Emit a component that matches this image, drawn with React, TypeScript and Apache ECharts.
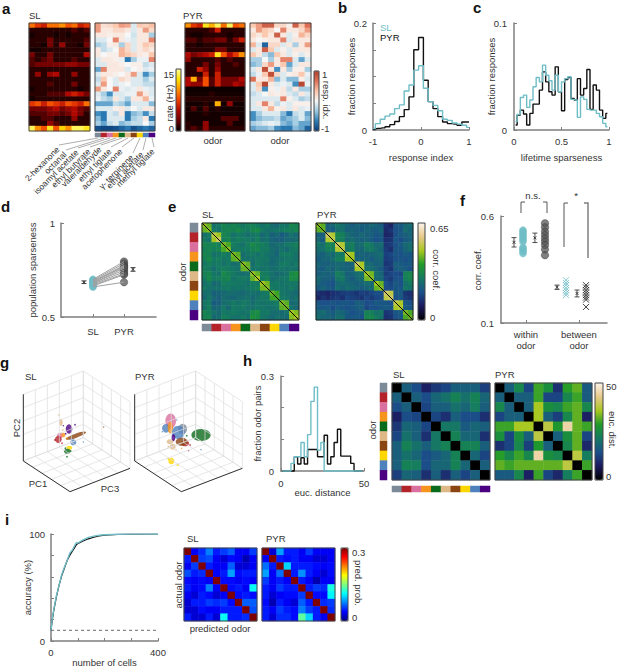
import React, { useRef, useEffect } from 'react';
import * as echarts from 'echarts';

const FONT = 'Liberation Sans';
const TEAL = '#6fbdc6';
const TEXT = '#333333';
const AXIS = '#7f7f7f';

const odorNames = ['2-hexanone', 'octanal', 'isoamyl acetate', 'ethyl butyrate', 'valeraldehyde', 'ethyl tiglate', 'acetophenone', 'γ- terpinene', 'ethyl acetate', 'methyl tiglate'];
const odorColors = ['#7d8b99', '#b5232a', '#d9709e', '#f7941d', '#0b6b1d', '#deb887', '#8b4513', '#ffd700', '#4f81bd', '#4b0082'];
const odorIndex = [0, 1, 2, 3, 4, 5, 6, 7, 8, 9];

// a: firing rates (Hz), 22 cells x 10 odors
const rateSL = [
  [9, 7, 6, 9, 9, 10, 8, 9, 6, 7],
  [1, 1, 1, 1, 1, 1, 1, 2, 1, 2],
  [0.5, 1, 1, 1, 0.5, 1, 0.5, 1, 1, 1],
  [1, 1, 1, 3, 1, 1, 1, 1, 1, 2],
  [1, 1, 0.5, 3, 1, 4, 1, 1, 0.5, 3],
  [0.5, 0.5, 1, 1, 1, 1, 1, 1, 1, 1],
  [3, 1, 1, 3, 1, 1, 1, 1, 1, 5],
  [2, 1, 2, 3, 1, 1, 1, 2, 1, 1],
  [2, 3, 3, 3, 3, 3, 4, 4, 3, 3],
  [1, 1, 1, 1, 1, 1, 1, 1, 1, 1],
  [1, 4, 1, 4, 5, 1, 1, 4, 1, 1],
  [1, 1, 1, 1, 1, 1, 1, 1, 1, 1],
  [1, 1, 1, 2, 1, 1, 1, 3, 1, 1],
  [0.5, 1, 1, 1, 1, 1, 1, 1, 0.5, 1],
  [1, 1, 1, 2, 2, 2, 5, 6, 5, 3],
  [0.5, 1, 1, 1, 1, 1, 1, 1, 1, 1],
  [7, 8, 6, 8, 7, 6, 8, 7, 6, 9],
  [3, 3, 3, 4, 5, 3, 4, 5, 3, 2],
  [2, 2, 2, 3, 3, 2, 3, 5, 3, 1],
  [1, 1, 2, 2, 1, 1, 1, 4, 1, 1],
  [1, 1, 1, 4, 2, 1, 1, 1, 1, 1],
  [14, 10, 8, 13, 8, 12, 10, 14, 14, 13],
];
const ratePYR = [
  [10, 7, 6, 13, 11, 14, 9, 14, 8, 9],
  [1, 1, 1, 1, 2, 6, 1, 1, 1, 1],
  [1, 0.5, 0.5, 1, 1, 1, 1, 0.5, 1, 1],
  [2, 2, 1, 2, 2, 3, 3, 1, 3, 6],
  [1, 1, 0.5, 1, 1, 1, 1, 1, 1, 1],
  [1, 1, 1, 1, 1, 3, 3, 1, 1, 1],
  [5, 3, 4, 5, 6, 13, 8, 5, 7, 10],
  [4, 1, 1, 1, 1, 2, 1, 2, 1, 1],
  [1, 1, 1, 3, 1, 3, 1, 1, 2, 1],
  [1, 1, 6, 4, 1, 4, 1, 1, 1, 1],
  [1, 1, 1, 6, 1, 6, 1, 1, 1, 1],
  [5, 11, 3, 8, 2, 6, 3, 3, 3, 5],
  [5, 4, 4, 8, 2, 6, 3, 3, 5, 4],
  [0.3, 0.3, 0.3, 0.3, 0.3, 0.3, 0.3, 0.3, 0.3, 0.3],
  [0.5, 0.5, 0.5, 0.5, 1, 0.5, 0.5, 0.5, 0.5, 0.5],
  [1, 1, 1, 1, 1, 1, 1, 1, 1, 1],
  [0.5, 0.5, 0.5, 1, 0.5, 11, 0.5, 4, 0.5, 0.5],
  [0.5, 2, 0.5, 2, 0.5, 1, 0.5, 0.5, 0.5, 0.5],
  [0.5, 0.5, 0.5, 1, 0.5, 0.5, 0.5, 0.5, 0.5, 0.5],
  [0.5, 0.5, 0.5, 0.5, 0.5, 0.5, 2, 2, 2, 0.5],
  [1, 0.5, 0.5, 4, 0.5, 0.5, 0.5, 2, 0.5, 0.5],
  [1, 2, 1, 4, 1, 1, 1, 1, 1, 1],
];
// a: response index
const idxSL = [
  [0.5, 0.15, 0.2, 0.3, 0.5, 0.45, -0.1, 0.3, 0.25, 0.35],
  [0.5, 0.1, 0.1, 0.2, 0.2, 0.1, -0.1, 0.1, 0.5, 0.2],
  [0.1, 0.1, 0.05, 0.1, 0.1, 0, -0.15, 0.1, 0.1, -0.3],
  [-0.1, -0.1, 0, 0.6, 0.1, -0.05, -0.1, 0.1, 0.1, 0.6],
  [-0.3, -0.2, 0.05, 0.1, -0.3, 0.2, -0.1, 0.1, 0.3, 0.2],
  [0.1, -0.2, -0.1, 0, 0.4, 0.2, -0.1, 0.1, 0.2, 0.1],
  [0.1, 0, 0.05, 0.05, 0.4, 0.3, 0.2, 0.1, 0.05, 0.3],
  [-0.1, 0.1, 0.1, 0.05, -0.05, -0.7, -0.3, -0.05, -0.05, 0.6],
  [-0.1, -0.1, 0.1, 0.1, 0.05, 0, 0.05, 0.05, -0.2, -0.1],
  [-0.5, 0.6, 0.1, 0.1, 0.1, -0.1, 0, 0.05, -0.1, -0.05],
  [-0.1, 0.1, 0.1, 0.05, 0, 0.1, 0.5, -0.1, -0.6, -0.3],
  [-0.2, 0.3, 0, -0.1, 0.2, 0.1, -0.1, -0.1, -0.3, -0.1],
  [-0.1, 0.5, 0, -0.1, -0.05, 0, -0.1, -0.1, -0.2, -0.2],
  [0.5, 0.1, 0, 0.6, -0.05, -0.1, -0.05, 0.1, -0.05, -0.1],
  [-0.1, -0.3, -0.6, -0.1, -0.1, -0.05, -0.05, 0.5, 0.1, -0.1],
  [-0.05, -0.2, -0.3, 0.1, -0.1, -0.3, 0.1, 0.1, 0.4, -0.05],
  [-0.5, -0.5, -0.5, -0.2, -0.3, -0.5, -0.1, -0.1, -0.1, -0.4],
  [-0.1, -0.1, -0.1, 0.05, 0.1, -0.1, 0, -0.1, 0.1, 0.1],
  [-0.6, -0.7, -0.1, -0.2, 0.1, -0.7, -0.4, -0.3, -0.6, -0.2],
  [-0.4, -0.7, -0.1, -0.1, -0.1, -0.7, -0.3, -0.2, 0.1, -0.7],
  [-0.3, -0.5, -0.2, -0.1, -0.4, -0.3, -0.2, -0.2, 0, -0.3],
  [-0.9, -0.95, -0.95, -0.9, -0.8, -0.7, -0.9, -0.8, -0.7, -0.8],
];
const idxPYR = [
  [0.3, 0.5, 0.8, 0.8, 0.2, 0.2, 0.05, 0.8, 0.3, 0.7],
  [0.1, 0.5, 0.3, 0.2, 0, 0.6, 0.1, 0.1, 0.2, 0.5],
  [0.2, 0.1, 0.3, 0.1, 0.8, 0.1, -0.1, 0.05, 0.4, 0.2],
  [0.1, 0, 0.05, 0.1, 0.1, 0.6, -0.1, 0.1, 0.1, 0.1],
  [0.4, -0.1, -0.8, 0.2, 0.2, -0.1, 0.1, -0.3, 0.1, 0.5],
  [-0.1, 0.1, 0.8, 0.3, -0.1, 0.05, -0.1, 0.1, 0.1, 0.1],
  [0.3, 0.1, -0.2, -0.4, 0.3, 0.1, -0.1, 0.05, -0.1, 0.05],
  [-0.3, -0.3, 0, -0.3, 0.1, 0.6, 0.6, -0.1, -0.5, -0.1],
  [-0.4, -0.3, 0.2, 0.5, 0.1, 0.3, -0.5, -0.1, 0.1, 0.1],
  [-0.1, 0.1, 0.9, 0.1, -0.6, 0.1, -0.3, 0.05, 0.05, -0.3],
  [-0.2, -0.05, 0.3, 0.9, 0.2, -0.1, 0.05, 0.1, 0.3, -0.05],
  [0.7, 0.1, 0.1, 0.4, -0.4, -0.1, -0.4, -0.4, 0.05, -0.1],
  [-0.1, 0.3, 0.95, 0.1, -0.1, -0.05, -0.1, -0.6, 0.95, -0.05],
  [-0.1, 0.2, -0.6, 0.05, -0.05, 0.1, -0.2, 0.1, -0.3, -0.3],
  [-0.2, -0.1, 0, 0.1, 0.05, 0.1, -0.1, -0.2, 0.1, -0.1],
  [-0.1, -0.1, -0.1, -0.1, -0.1, 0.6, 0.05, -0.1, -0.3, -0.2],
  [-0.1, 0.1, 0.6, 0.1, -0.2, -0.05, -0.1, 0.05, 0.05, 0.05],
  [-0.1, -0.1, 0.1, 0.4, 0.05, 0.1, -0.1, 0.1, -0.1, -0.05],
  [-0.6, -0.3, -0.1, -0.1, -0.1, -0.4, -0.7, -0.2, -0.1, -0.5],
  [-0.6, -0.4, -0.3, -0.3, -0.2, -0.5, -0.4, -0.3, -0.1, -0.4],
  [-0.3, -0.2, -0.1, -0.05, -0.1, -0.4, -0.5, -0.3, -0.5, -0.5],
  [-0.5, -0.4, -0.4, -0.3, -0.6, -0.7, -0.7, -0.4, -0.5, -0.8],
];

// b: response index histogram
const respBins = [-1, -0.9, -0.8, -0.7, -0.6, -0.5, -0.4, -0.3, -0.2, -0.1, 0, 0.1, 0.2, 0.3, 0.4, 0.5, 0.6, 0.7, 0.8, 0.9, 1];
const respPYR = [0.002, 0.003, 0.004, 0.006, 0.01, 0.016, 0.025, 0.038, 0.062, 0.15, 0.173, 0.093, 0.053, 0.04, 0.025, 0.015, 0.012, 0.011, 0.009, 0.015, 0.015];
const respSL = [0.003, 0.012, 0.02, 0.026, 0.03, 0.04, 0.047, 0.073, 0.084, 0.112, 0.12, 0.078, 0.053, 0.046, 0.036, 0.02, 0.018, 0.013, 0.011, 0.009, 0.005];

// c: lifetime sparseness histogram, 30 bins
const sparsePYR = [0.0047, 0.014, 0.0186, 0.0149, 0.0047, 0.0155, 0.0242, 0.0242, 0.0373, 0.0543, 0.045, 0.0357, 0.0326, 0.059, 0.0357, 0.018, 0.0472, 0.049, 0.0295, 0.028, 0.048, 0.0326, 0.0388, 0.0565, 0.0193, 0.042, 0.0373, 0.0186, 0.0109, 0.0155];
const sparseSL = [0.0078, 0.0146, 0.0304, 0.0326, 0.0211, 0.028, 0.0404, 0.049, 0.045, 0.0606, 0.0512, 0.046, 0.0373, 0.0512, 0.0357, 0.045, 0.048, 0.0497, 0.0286, 0.028, 0.0118, 0.031, 0.0286, 0.0193, 0.0186, 0.0186, 0.0155, 0.0124, 0.0062, 0.0031];

// d: population sparseness, paired by experiment
const popSL = [0.7, 0.695, 0.69, 0.685, 0.68, 0.68, 0.675, 0.67, 0.665, 0.66, 0.69];
const popPYR = [0.795, 0.785, 0.775, 0.77, 0.76, 0.75, 0.74, 0.73, 0.725, 0.685, 0.765];

// e: correlation x 100 between trial groups, two groups per odor, upper triangle
const corrSL = [
  [45, 42, 26, 28, 31, 29, 31, 29, 27, 29, 30, 28, 26, 28, 25, 24, 27, 26, 31, 30],
  [44, 28, 26, 30, 31, 30, 32, 29, 28, 31, 32, 28, 26, 26, 27, 28, 29, 29, 31],
  [50, 46, 31, 29, 26, 28, 27, 25, 27, 28, 24, 26, 22, 24, 21, 23, 26, 24],
  [52, 29, 31, 27, 29, 28, 28, 26, 29, 25, 26, 23, 22, 22, 24, 24, 25],
  [43, 40, 29, 27, 26, 29, 32, 30, 29, 27, 24, 25, 25, 27, 28, 29],
  [44, 27, 28, 28, 28, 30, 31, 28, 28, 25, 24, 26, 24, 27, 28],
  [43, 41, 25, 27, 28, 26, 28, 26, 25, 23, 28, 28, 28, 26],
  [43, 26, 26, 26, 28, 27, 27, 24, 25, 26, 27, 27, 26],
  [44, 42, 25, 28, 27, 26, 24, 25, 28, 28, 26, 28],
  [42, 26, 27, 26, 27, 25, 26, 27, 26, 27, 26],
  [45, 42, 29, 28, 26, 24, 25, 26, 32, 34],
  [47, 28, 30, 25, 26, 27, 27, 33, 32],
  [46, 43, 27, 28, 26, 27, 27, 27],
  [44, 28, 27, 27, 26, 28, 26],
  [42, 39, 27, 26, 25, 24],
  [40, 28, 27, 25, 26],
  [43, 41, 24, 25],
  [42, 26, 24],
  [46, 44],
  [47],
];
const corrPYR = [
  [44, 41, 22, 24, 27, 25, 23, 21, 23, 22, 22, 24, 23, 21, 13, 11, 20, 21, 24, 25],
  [42, 22, 21, 25, 26, 22, 23, 22, 21, 23, 22, 21, 23, 12, 14, 19, 20, 25, 23],
  [52, 48, 31, 29, 25, 23, 22, 24, 22, 22, 20, 21, 11, 12, 19, 21, 22, 23],
  [50, 30, 29, 24, 25, 23, 22, 23, 21, 19, 20, 13, 14, 20, 18, 21, 22],
  [52, 48, 28, 29, 24, 25, 29, 27, 24, 25, 14, 15, 19, 21, 24, 25],
  [50, 27, 29, 24, 23, 27, 28, 25, 23, 15, 13, 20, 20, 23, 25],
  [50, 46, 22, 23, 22, 23, 24, 25, 16, 17, 20, 19, 21, 20],
  [46, 23, 22, 23, 21, 23, 24, 15, 16, 19, 20, 19, 20],
  [52, 47, 25, 24, 22, 23, 14, 15, 22, 21, 20, 21],
  [48, 26, 25, 23, 21, 16, 14, 21, 22, 21, 19],
  [46, 43, 25, 23, 15, 17, 18, 17, 30, 31],
  [44, 24, 24, 17, 15, 19, 19, 29, 31],
  [46, 42, 19, 17, 21, 19, 26, 28],
  [44, 18, 18, 20, 20, 27, 26],
  [53, 50, 20, 21, 14, 13],
  [52, 19, 20, 15, 14],
  [50, 47, 20, 19],
  [48, 21, 20],
  [43, 40],
  [42],
];
const diagonal = [[0, 1], [1, 0]];

// f: correlation within and between odors
const withinSL = [0.534, 0.527, 0.519, 0.511, 0.503, 0.495, 0.488, 0.48, 0.453, 0.448, 0.441, 0.433, 0.425];
const withinPYR = [0.566, 0.547, 0.527, 0.511, 0.495, 0.48, 0.464, 0.444, 0.417];
const betweenSL = [0.3, 0.2875, 0.277, 0.264, 0.253, 0.241, 0.23];
const betweenPYR = [0.277, 0.266, 0.253, 0.242, 0.23, 0.219, 0.209, 0.175];
// x, low, high, mean
const errorsF = [
  [0.775, 0.455, 0.499, 0.477],
  [1.17, 0.476, 0.52, 0.498],
  [1.587, 0.257, 0.277, 0.267],
  [1.964, 0.222, 0.254, 0.238],
];
const errorsD = [
  [0.71, 0.678, 0.692, 0.685],
  [2.29, 0.743, 0.763, 0.753],
];

// g: PCA clouds: x, y, width, height, rotation, odor
const cloudsSL = [
  [183, 262, 10, 22, 0, 5], [177, 240, 5, 5, 0, 5], [207, 282, 20, 28, 0, 9], [190, 272, 4, 4, 0, 9],
  [225, 269, 5, 5, 0, 9], [180, 302, 18, 18, 0, 2], [175, 313, 20, 22, 0, 1], [190, 300, 12, 14, 0, 3],
  [228, 302, 64, 13, 20, 6], [311, 276, 4, 4, 0, 6], [220, 322, 18, 18, 0, 8], [250, 321, 4, 4, 0, 8],
  [208, 338, 18, 12, 0, 7], [202, 349, 20, 16, 0, 4], [201, 365, 5, 5, 0, 4], [197, 296, 5, 5, 0, 9],
  [165, 315, 6, 6, 0, 1], [186, 325, 5, 5, 0, 1], [214, 312, 5, 5, 0, 8], [196, 340, 5, 5, 0, 4],
  [212, 348, 5, 5, 0, 4], [200, 310, 6, 6, 0, 3], [188, 285, 5, 5, 0, 5],
];
const cloudsPYR = [
  [512, 258, 32, 45, 0, 2], [498, 280, 24, 26, 0, 8], [548, 282, 26, 32, 0, 0], [511, 278, 16, 36, 0, 3],
  [535, 292, 38, 40, 0, 8], [520, 308, 12, 22, 0, 9], [603, 300, 58, 36, 0, 4], [518, 335, 18, 18, 0, 5],
  [510, 320, 20, 15, 0, 5], [555, 325, 25, 18, 0, 1], [545, 320, 36, 24, 0, 6], [514, 378, 18, 20, 0, 7],
  [533, 390, 8, 5, 0, 7], [566, 347, 4, 4, 0, 1], [603, 344, 4, 4, 0, 8], [487, 290, 4, 4, 0, 8],
  [530, 255, 4, 4, 0, 8], [545, 340, 4, 4, 0, 3], [570, 330, 5, 5, 0, 1], [505, 372, 6, 6, 0, 7],
  [560, 302, 5, 5, 0, 4], [592, 298, 3, 3, 0, 6], [612, 295, 3, 3, 0, 6], [505, 335, 5, 5, 0, 5],
  [528, 345, 4, 4, 0, 5],
];
// corners of the floor: left, front, right, back; then the wall height
const boxSL = [[70, 378], [210, 470], [390, 400], [250, 308]];
const boxPYR = [[404, 378], [544, 470], [727, 400], [587, 308]];
const boxHeight = 200;

// h: histogram of euclidean distances, 25 bins of width 2
const eucPYR = [0, 0, 0, 0, 0.045, 0.022, 0.042, 0.022, 0.068, 0.068, 0.068, 0.045, 0.045, 0.113, 0.022, 0.045, 0.09, 0.132, 0.047, 0.047, 0.047, 0.024, 0, 0, 0];
const eucSL = [0, 0, 0, 0.024, 0.045, 0.045, 0.09, 0.045, 0.115, 0.22, 0.265, 0.066, 0.09, 0, 0, 0, 0, 0, 0, 0, 0, 0, 0, 0, 0];
const distSL = [
  [0, 17, 14, 8, 11, 13, 17, 17, 17, 12],
  [17, 0, 17, 14, 18, 20, 23, 20, 23, 18],
  [14, 17, 0, 13, 17, 17, 20, 18, 22, 17],
  [8, 14, 13, 0, 13, 10, 17, 14, 14, 10],
  [11, 18, 17, 13, 0, 21, 21, 16, 18, 17],
  [13, 20, 17, 10, 21, 0, 23, 18, 18, 10],
  [17, 23, 20, 17, 21, 23, 0, 23, 23, 17],
  [17, 20, 18, 14, 16, 18, 23, 0, 18, 13],
  [17, 23, 22, 14, 18, 18, 23, 18, 0, 17],
  [12, 18, 17, 10, 17, 10, 17, 13, 17, 0],
];
const distPYR = [
  [0, 17, 24, 13, 30, 26, 10, 29, 32, 16],
  [17, 0, 17, 17, 30, 13, 13, 24, 30, 16],
  [24, 17, 0, 17, 36, 26, 24, 30, 32, 24],
  [13, 17, 17, 0, 36, 17, 12, 24, 32, 8],
  [30, 30, 36, 36, 0, 38, 28, 45, 32, 30],
  [26, 13, 26, 17, 38, 0, 17, 26, 32, 13],
  [10, 13, 24, 12, 28, 17, 0, 24, 32, 9],
  [29, 24, 30, 24, 45, 26, 24, 0, 38, 22],
  [32, 30, 32, 32, 32, 32, 32, 38, 0, 30],
  [16, 16, 24, 8, 30, 13, 9, 22, 30, 0],
];

// i: decoder accuracy and confusion
const cellCounts = [0, 5, 10, 20, 30, 40, 50, 60, 70, 80, 90, 95, 100, 120, 140, 160, 180, 200, 250, 300, 400];
const accuracyPYR = [10, 20, 28, 41, 52, 61, 68, 75, 80, 84, 88, 90, 91, 93.5, 95.5, 97, 98.2, 99, 99.7, 99.9, 100];
const accuracySL = [10, 21, 29, 42, 52, 62, 69, 75, 82, 85, 90, 92, 91.5, 94.5, 96.8, 98, 98.8, 99.3, 99.7, 99.9, 100];
const chanceLevel = [[0, 10], [400, 10]];
const predSL = [
  [0.33, 0.035, 0.05, 0.075, 0.045, 0.055, 0.065, 0.035, 0.035, 0.055],
  [0.045, 0.33, 0.055, 0.06, 0.035, 0.025, 0.04, 0.035, 0.015, 0.035],
  [0.035, 0.055, 0.33, 0.045, 0.035, 0.035, 0.065, 0.025, 0.025, 0.035],
  [0.06, 0.045, 0.05, 0.33, 0.035, 0.045, 0.085, 0.04, 0.045, 0.045],
  [0.04, 0.035, 0.04, 0.035, 0.33, 0.04, 0.04, 0.035, 0.04, 0.035],
  [0.045, 0.035, 0.04, 0.075, 0.035, 0.33, 0.04, 0.045, 0.035, 0.115],
  [0.035, 0.025, 0.045, 0.04, 0.025, 0.035, 0.33, 0.04, 0.045, 0.04],
  [0.025, 0.045, 0.045, 0.055, 0.05, 0.055, 0.04, 0.33, 0.065, 0.065],
  [0.025, 0.025, 0.04, 0.035, 0.035, 0.045, 0.045, 0.045, 0.33, 0.06],
  [0.045, 0.025, 0.025, 0.045, 0.025, 0.115, 0.045, 0.045, 0.05, 0.33],
];
const predPYR = [
  [0.33, 0.025, 0.085, 0.045, 0.045, 0.035, 0.055, 0.035, 0.035, 0.035],
  [0.035, 0.33, 0.045, 0.04, 0.045, 0.035, 0.035, 0.025, 0.025, 0.035],
  [0.07, 0.045, 0.33, 0.1, 0.045, 0.045, 0.045, 0.04, 0.035, 0.04],
  [0.085, 0.035, 0.07, 0.33, 0.045, 0.08, 0.045, 0.035, 0.025, 0.04],
  [0.055, 0.035, 0.045, 0.035, 0.33, 0.045, 0.035, 0.015, 0.035, 0.035],
  [0.045, 0.035, 0.055, 0.045, 0.045, 0.33, 0.045, 0.055, 0.05, 0.12],
  [0.045, 0.025, 0.035, 0.04, 0.04, 0.055, 0.33, 0.04, 0.04, 0.11],
  [0.04, 0.015, 0.045, 0.035, 0.025, 0.065, 0.045, 0.33, 0.05, 0.055],
  [0.045, 0.035, 0.055, 0.045, 0.04, 0.075, 0.055, 0.045, 0.33, 0.05],
  [0.045, 0.025, 0.05, 0.05, 0.04, 0.14, 0.1, 0.045, 0.035, 0.33],
];

const hotColors = ['#000000', '#660000', '#b00800', '#f04000', '#ff9000', '#ffe000', '#ffff99'];
const divergingColors = ['#0b3c78', '#2c7fb8', '#9ecae1', '#f7f7f7', '#fbc4a8', '#e0735a', '#b2402c'];
const earthColors = ['#000000', '#1c1a5e', '#1b4f8a', '#157a62', '#1f9a2a', '#a8c81e', '#e6c88a', '#fdf3ea'];
const jetColors = ['#00007f', '#0000ff', '#007fff', '#00ffff', '#7fff7f', '#ffff00', '#ff7f00', '#ff0000', '#7f0000'];

// the correlation tables only hold their upper triangle, in hundredths
const mirror = (upper: number[][]) => {
  const n = upper.length;
  const full = Array.from({ length: n }, () => new Array(n).fill(0));
  upper.forEach((row, i) => row.forEach((v, k) => {
    full[i][i + k] = v / 100;
    full[i + k][i] = v / 100;
  }));
  return full;
};

function buildOption() {
  const grid: any[] = [];
  const xAxis: any[] = [];
  const yAxis: any[] = [];
  const series: any[] = [];
  const graphic: any[] = [];
  const scales: Record<string, number[]> = { hot: [], div: [], corr: [], euc: [], jet: [], strip: [] };

  const addGrid = (r: number[], x: any, y: any) => {
    const i = grid.length;
    grid.push({ left: r[0], top: r[1], width: r[2], height: r[3], show: false, outerBoundsMode: 'none' });
    xAxis.push({ gridIndex: i, ...x });
    yAxis.push({ gridIndex: i, ...y });
    return i;
  };

  const text = (t: string, x: number, y: number, o: any = {}) => {
    graphic.push({
      type: 'text', x, y, rotation: o.rot || 0, z: 20, silent: true,
      style: {
        text: t, fill: o.color || TEXT, fontFamily: FONT, fontSize: o.size || 9.5, fontWeight: o.weight || 'normal',
        align: o.align || 'left', verticalAlign: 'middle',
      },
    });
  };
  const frame = (r: number[], color = '#333333') => {
    graphic.push({ type: 'rect', z: 20, silent: true, shape: { x: r[0], y: r[1], width: r[2], height: r[3] }, style: { fill: 'none', stroke: color, lineWidth: 1 } });
  };
  const stroke = (points: number[][], color = '#555555', lineWidth = 1) => {
    graphic.push({ type: 'polyline', z: 20, silent: true, shape: { points }, style: { fill: 'none', stroke: color, lineWidth } });
  };

  const addHeat = (r: number[], matrix: number[][], scale: string, border?: string) => {
    const rows = matrix.length;
    const cols = matrix[0].length;
    const i = addGrid(
      r,
      { type: 'category', show: false, data: Array.from({ length: cols }, (_, k) => k) },
      { type: 'category', show: false, inverse: true, data: Array.from({ length: rows }, (_, k) => k) },
    );
    const data: number[][] = [];
    matrix.forEach((row, y) => row.forEach((v, x) => data.push([x, y, v])));
    scales[scale].push(series.length);
    series.push({ type: 'heatmap', xAxisIndex: i, yAxisIndex: i, data, silent: true, progressive: 0 });
    if (border) frame(r, border);
  };
  const addStrip = (r: number[], vertical: boolean) => {
    addHeat(r, vertical ? odorIndex.map((v) => [v]) : [odorIndex], 'strip');
  };

  const baseAxis = (min: number, max: number, ticks: number[], labels: number[], o: any = {}) => ({
    type: 'value', min, max,
    axisLine: { show: true, onZero: false, lineStyle: { color: AXIS, width: 1.5 } },
    axisTick: { show: true, inside: true, length: 3, customValues: ticks, lineStyle: { color: AXIS } },
    axisLabel: { customValues: labels, color: TEXT, fontSize: 9.5, fontFamily: FONT, margin: o.margin ?? 6, formatter: o.formatter, lineHeight: 11 },
    splitLine: { show: false },
    name: o.name,
    nameLocation: 'middle',
    nameGap: o.nameGap,
    nameMoveOverlap: false,
    nameTextStyle: { color: TEXT, fontSize: 9.5, fontFamily: FONT },
  });
  const stepLine = (i: number, xs: number[], ys: number[], color: string) => {
    series.push({
      type: 'line', step: 'middle', xAxisIndex: i, yAxisIndex: i, showSymbol: false, silent: true,
      data: xs.map((x, k) => [x, ys[k]]), lineStyle: { color, width: 1.4 }, clip: false,
    });
  };
  const addErrors = (i: number, data: number[][]) => {
    series.push({
      type: 'custom', xAxisIndex: i, yAxisIndex: i, data, silent: true, clip: false,
      encode: { x: 0, y: [1, 2, 3] },
      renderItem: (_: any, api: any) => {
        const lo = api.coord([api.value(0), api.value(1)]);
        const hi = api.coord([api.value(0), api.value(2)]);
        const mid = api.coord([api.value(0), api.value(3)]);
        const style = { stroke: '#222222', lineWidth: 0.8, fill: 'none' };
        const seg = (x1: number, y1: number, x2: number, y2: number) => ({ type: 'line', shape: { x1, y1, x2, y2 }, style });
        return {
          type: 'group',
          children: [
            seg(lo[0], lo[1], hi[0], hi[1]),
            seg(lo[0] - 2.5, lo[1], lo[0] + 2.5, lo[1]),
            seg(hi[0] - 2.5, hi[1], hi[0] + 2.5, hi[1]),
            seg(mid[0] - 1.5, mid[1] - 1.5, mid[0] + 1.5, mid[1] + 1.5),
            seg(mid[0] - 1.5, mid[1] + 1.5, mid[0] + 1.5, mid[1] - 1.5),
          ],
        };
      },
    });
  };

  // panel letters
  ([['a', 2, 8], ['b', 338, 7], ['c', 473, 7], ['d', 1, 206], ['e', 168, 206], ['f', 460, 200], ['g', 0, 362], ['h', 243, 360], ['i', 5, 519]] as [string, number, number][])
    .forEach(([t, x, y]) => text(t, x, y, { size: 15, weight: 'bold', color: '#111111' }));

  // a
  addHeat([29, 23, 61, 108], rateSL, 'hot', '#444444');
  addHeat([95, 23, 60, 108], idxSL, 'div', '#444444');
  addHeat([185, 23, 60, 108], ratePYR, 'hot', '#444444');
  addHeat([250, 23, 61, 108], idxPYR, 'div', '#444444');
  addStrip([95, 133, 60, 4], false);
  text('SL', 29, 15);
  text('PYR', 183, 15);
  text('odor', 213, 140, { align: 'center' });
  text('odor', 280, 140, { align: 'center' });
  text('rate (Hz)', 169, 103, { rot: Math.PI / 2, align: 'center' });
  text('15', 174, 74, { align: 'right' });
  text('0', 174, 128, { align: 'right' });
  text('1', 322, 74);
  text('-1', 321, 128);
  text('resp. idx.', 326, 100, { rot: -Math.PI / 2, align: 'center' });
  const labelEnds = [[58, 148], [65, 153], [77, 151], [89, 150], [100, 148], [110, 150], [121, 150], [132, 156], [142, 153], [153, 150]];
  odorNames.forEach((name, k) => {
    const [x, y] = labelEnds[k];
    text(name, x, y, { rot: Math.PI / 4, align: 'right', size: 8.5 });
    stroke([[x + 1, y - 3], [98 + k * 6, 138]], '#777777', 0.6);
  });

  // b
  const b = addGrid([373, 23, 96, 107],
    baseAxis(-1, 1, [-1, 0, 1], [-1, 0, 1], { name: 'response index', nameGap: 22 }),
    baseAxis(0, 0.2, [0, 0.05, 0.1, 0.15, 0.2], [0, 0.2], { name: 'fraction responses', nameGap: 17 }));
  stepLine(b, respBins, respPYR, '#111111');
  stepLine(b, respBins, respSL, TEAL);
  text('SL', 380, 27, { color: TEAL });
  text('PYR', 380, 37, { color: '#111111' });

  // c
  const c = addGrid([514, 23, 95, 107],
    baseAxis(0, 1, [0, 0.5, 1], [0, 0.5, 1], { name: 'lifetime sparseness', nameGap: 22 }),
    baseAxis(0, 0.1, [0, 0.1], [0, 0.1], { name: 'fraction responses', nameGap: 18, margin: 7 }));
  const sparseBins = sparsePYR.map((_, k) => (k + 0.5) / sparsePYR.length);
  stepLine(c, sparseBins, sparsePYR, '#111111');
  stepLine(c, sparseBins, sparseSL, TEAL);

  // d
  const d = addGrid([61, 223, 95, 94],
    baseAxis(-0.03, 3.03, [1, 2], [1, 2], { formatter: (v: number) => (v === 1 ? 'SL' : 'PYR'), margin: 9 }),
    baseAxis(0.5, 1, [0.5, 1], [0.5, 1], { name: 'population sparseness', nameGap: 24 }));
  series.push({
    type: 'line', xAxisIndex: d, yAxisIndex: d, showSymbol: false, silent: true, connectNulls: false,
    data: popSL.flatMap((v, k) => [[1, v], [2, popPYR[k]], ['-', '-']]),
    lineStyle: { color: '#a0a0a0', width: 1 },
  });
  series.push({ type: 'scatter', xAxisIndex: d, yAxisIndex: d, silent: true, symbolSize: 7.5, data: popSL.map((v) => [1, v]), itemStyle: { color: TEAL, opacity: 0.9 } });
  series.push({ type: 'scatter', xAxisIndex: d, yAxisIndex: d, silent: true, symbolSize: 7.5, data: popPYR.map((v) => [2, v]), itemStyle: { color: '#555555', opacity: 0.75, borderColor: '#333333', borderWidth: 0.5 } });
  addErrors(d, errorsD);

  // e
  const rectSL = [202, 223, 97, 97];
  const rectPYR = [316, 223, 97, 97];
  addHeat(rectSL, mirror(corrSL), 'corr', '#222222');
  addHeat(rectPYR, mirror(corrPYR), 'corr', '#222222');
  [rectSL, rectPYR].forEach((r) => {
    const i = addGrid(r, { type: 'value', show: false, min: 0, max: 1 }, { type: 'value', show: false, min: 0, max: 1 });
    series.push({ type: 'line', xAxisIndex: i, yAxisIndex: i, showSymbol: false, silent: true, data: diagonal, lineStyle: { color: '#000000', width: 1 } });
  });
  addStrip([190, 223, 8, 97], true);
  addStrip([202, 324, 97, 7], false);
  text('SL', 202, 214);
  text('PYR', 317, 214);
  text('odor', 182, 272, { rot: Math.PI / 2, align: 'center' });
  text('0.65', 430, 228);
  text('0', 430, 317);
  text('corr. coef.', 436, 270, { rot: -Math.PI / 2, align: 'center' });

  // f
  const f = addGrid([501, 216, 106, 107],
    baseAxis(0.53, 2.53, [1, 2], [1, 2], { formatter: (v: number) => (v === 1 ? 'within\nodor' : 'between\nodor'), margin: 6 }),
    baseAxis(0.1, 0.6, [0.1, 0.6], [0.1, 0.6], { name: 'corr. coef.', nameGap: 19, margin: 7 }));
  const cross = 'path://M0,0L10,10M10,0L0,10';
  const scatterF = (x: number, ys: number[], o: any) => series.push({ type: 'scatter', xAxisIndex: f, yAxisIndex: f, silent: true, data: ys.map((v) => [x, v]), ...o });
  scatterF(0.945, withinSL, { symbolSize: 7.5, itemStyle: { color: TEAL, opacity: 0.8 } });
  scatterF(1.36, withinPYR, { symbolSize: 7.5, itemStyle: { color: '#555555', opacity: 0.75, borderColor: '#333333', borderWidth: 0.5 } });
  scatterF(1.756, betweenSL, { symbol: cross, symbolSize: 6, itemStyle: { color: 'none', borderColor: TEAL, borderWidth: 1 } });
  scatterF(2.134, betweenPYR, { symbol: cross, symbolSize: 6, itemStyle: { color: 'none', borderColor: '#111111', borderWidth: 1 } });
  addErrors(f, errorsF);
  stroke([[521, 213], [521, 202], [525, 202]]);
  stroke([[543, 202], [547, 202], [547, 213]]);
  stroke([[564, 247], [564, 203], [568, 203]]);
  stroke([[584, 203], [588, 203], [588, 258]], '#808080', 1.5);
  text('n.s.', 533, 195, { align: 'center' });
  text('*', 576, 195, { align: 'center' });

  // g
  const addBox = (left: number, xMin: number, box: number[][], clouds: number[][]) => {
    const i = addGrid([left, 368.33, 113.33, 126.67],
      { type: 'value', show: false, min: xMin, max: xMin + 340 },
      { type: 'value', show: false, inverse: true, min: 100, max: 480 });
    const [A, F, R, B] = box;
    const at = (p: number[], q: number[], t: number) => [p[0] + (q[0] - p[0]) * t, p[1] + (q[1] - p[1]) * t];
    const up = (p: number[], t: number) => [p[0], p[1] - boxHeight * t];
    const wire: any[] = [];
    for (let k = 0; k <= 5; k++) {
      const t = k / 5;
      wire.push(at(A, F, t), at(B, R, t), ['-', '-']);
      wire.push(at(A, B, t), at(F, R, t), ['-', '-']);
      wire.push(at(A, B, t), up(at(A, B, t), 1), ['-', '-']);
      wire.push(at(B, R, t), up(at(B, R, t), 1), ['-', '-']);
      wire.push(up(A, t), up(B, t), ['-', '-']);
      wire.push(up(B, t), up(R, t), ['-', '-']);
    }
    series.push({ type: 'line', xAxisIndex: i, yAxisIndex: i, showSymbol: false, silent: true, data: wire, lineStyle: { color: '#dcdcdc', width: 0.7 } });
    series.push({ type: 'line', xAxisIndex: i, yAxisIndex: i, showSymbol: false, silent: true, data: [up(A, 1), A, F, R], lineStyle: { color: '#333333', width: 1 } });
    series.push({
      type: 'scatter', xAxisIndex: i, yAxisIndex: i, silent: true,
      data: clouds.map(([x, y, w, h, rot, odor]) => ({
        value: [x, y], symbolSize: [w / 3, h / 3], symbolRotate: rot, itemStyle: { color: odorColors[odor] },
      })),
    });
  };
  addBox(20, 60, boxSL, cloudsSL);
  addBox(131.67, 395, boxPYR, cloudsPYR);
  text('SL', 25, 376);
  text('PYR', 135, 376);
  text('PC2', 16, 428, { rot: Math.PI / 2, align: 'center' });
  text('PC1', 38, 483, { align: 'center' });
  text('PC3', 110, 488, { align: 'center' });

  // h
  const h = addGrid([281, 376, 83, 95],
    baseAxis(0, 50, [0, 50], [0, 50], { name: 'euc. distance', nameGap: 16, margin: 7 }),
    baseAxis(0, 0.3, [0, 0.1, 0.2, 0.3], [0, 0.3], { name: 'fraction odor pairs', nameGap: 19, margin: 7 }));
  const eucBins = eucSL.map((_, k) => k * 2 + 1);
  stepLine(h, eucBins, eucPYR, '#111111');
  stepLine(h, eucBins, eucSL, TEAL);
  addHeat([392, 383, 98, 97], distSL, 'euc', '#444444');
  addHeat([495, 383, 97, 97], distPYR, 'euc', '#444444');
  addStrip([380, 383, 7, 97], true);
  addStrip([392, 486, 98, 6], false);
  text('SL', 393, 374);
  text('PYR', 495, 374);
  text('odor', 372, 430, { rot: Math.PI / 2, align: 'center' });
  text('50', 606, 386);
  text('0', 606, 476);
  text('euc. dist.', 612, 430, { rot: -Math.PI / 2, align: 'center' });

  // i
  const ii = addGrid([51, 534, 107, 107],
    baseAxis(0, 400, [0, 100, 200, 300, 400], [0, 400], { name: 'number of cells', nameGap: 16 }),
    baseAxis(0, 100, [0, 20, 40, 60, 80, 100], [0, 100], { name: 'accuracy (%)', nameGap: 19 }));
  series.push({ type: 'line', xAxisIndex: ii, yAxisIndex: ii, showSymbol: false, silent: true, data: chanceLevel, lineStyle: { color: '#444444', width: 0.8, type: [3, 3] } });
  series.push({ type: 'line', xAxisIndex: ii, yAxisIndex: ii, showSymbol: false, silent: true, data: cellCounts.map((x, k) => [x, accuracyPYR[k]]), lineStyle: { color: '#111111', width: 1.2 } });
  series.push({ type: 'line', xAxisIndex: ii, yAxisIndex: ii, showSymbol: false, silent: true, data: cellCounts.map((x, k) => [x, accuracySL[k]]), lineStyle: { color: TEAL, width: 1.4 } });
  addHeat([184, 548, 73, 73], predSL, 'jet', '#444444');
  addHeat([262, 548, 73, 73], predPYR, 'jet', '#444444');
  text('SL', 187, 538);
  text('PYR', 266, 538);
  text('actual odor', 178, 585, { rot: Math.PI / 2, align: 'center' });
  text('predicted odor', 220, 628, { align: 'center' });
  text('0.3', 352, 552);
  text('0', 352, 617);
  text('pred. prob.', 358, 583, { rot: -Math.PI / 2, align: 'center' });

  // colour bars are the visualMaps' own
  const bar = (key: string, min: number, max: number, color: string[], left: number, top: number, itemWidth: number, itemHeight: number) => {
    frame([left, top, itemWidth, itemHeight], '#444444');
    return {
      type: 'continuous', seriesIndex: scales[key], min, max, left, top, itemWidth, itemHeight,
      padding: 0, calculable: false, hoverLink: false, text: ['', ''], inRange: { color },
    };
  };
  const visualMap: any[] = [
    bar('hot', 0, 15, hotColors, 176, 69, 5, 62),
    bar('div', -1, 1, divergingColors, 314, 71, 5, 60),
    bar('corr', 0, 0.65, earthColors, 418, 223, 7, 97),
    bar('euc', 0, 50, earthColors, 595, 383, 8, 97),
    bar('jet', 0, 0.3, jetColors, 341, 548, 7, 73),
    {
      type: 'piecewise', show: false, seriesIndex: scales.strip,
      pieces: odorColors.map((color, value) => ({ value, color })),
    },
  ];

  return {
    animation: false,
    backgroundColor: '#ffffff',
    textStyle: { fontFamily: FONT },
    grid, xAxis, yAxis, series, visualMap, graphic,
  };
}

export default function App() {
  const chartRef = useRef<HTMLDivElement>(null);

  useEffect(() => {
    document.body.style.margin = '0';
    if (!chartRef.current) return;
    const chart = echarts.init(chartRef.current, null, { renderer: 'svg' });
    chart.setOption(buildOption() as any);
    return () => {
      chart.dispose();
    };
  }, []);

  return <div ref={chartRef} style={{ width: 617, height: 667 }} />;
}
